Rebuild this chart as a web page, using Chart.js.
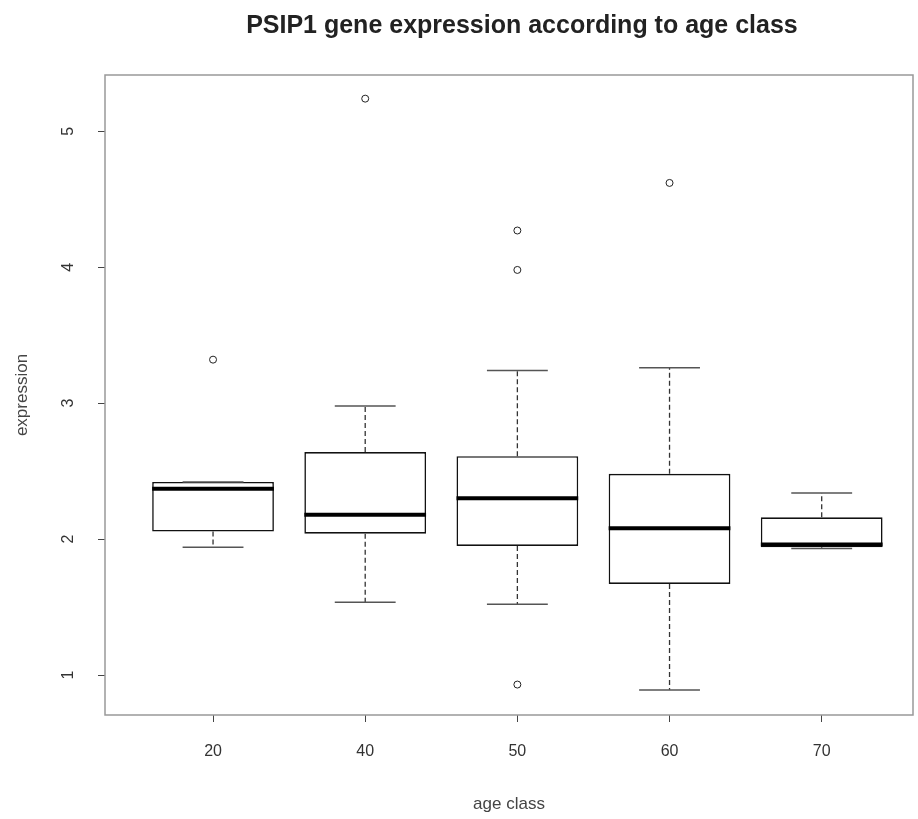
<!DOCTYPE html>
<html>
<head>
<meta charset="utf-8">
<title>PSIP1 gene expression according to age class</title>
<script src="https://cdn.jsdelivr.net/npm/chart.js@4/dist/chart.umd.min.js"></script>
<style>
  html, body { margin: 0; padding: 0; background: #fff; overflow: hidden; }
</style>
</head>
<body>
<canvas id="box" width="918" height="819"></canvas>
<script>
// values
const ageClasses = ['20', '40', '50', '60', '70'];
const lowerWhisker = [1.94, 1.535, 1.52, 0.89, 1.93];
const lowerQuartile = [2.055, 2.04, 1.95, 1.67, 1.94];
const medians = [2.37, 2.18, 2.30, 2.08, 1.96];
const upperQuartile = [2.42, 2.64, 2.61, 2.48, 2.16];
const upperWhisker = [2.42, 2.98, 3.24, 3.26, 2.34];
// outliers: which age class (index) and the value
const outlierClass = [0, 1, 2, 2, 2, 3];
const outlierValue = [3.32, 5.24, 4.27, 3.98, 0.93, 4.62];
const yTicks = [1, 2, 3, 4, 5];

const chartTitle = 'PSIP1 gene expression according to age class';

Chart.defaults.font.family = "'Liberation Sans', Arial, sans-serif";
Chart.defaults.color = '#333';

// whiskers, staples, medians, frame and the main title
const boxExtras = {
  id: 'boxExtras',
  afterDatasetsDraw(chart) {
    const { ctx, scales: { x, y } } = chart;
    const bars = chart.getDatasetMeta(0).data;
    ctx.save();
    ageClasses.forEach((c, i) => {
      const cx = x.getPixelForValue(i + 1);
      const half = bars[i].width / 2;

      ctx.strokeStyle = '#333';
      ctx.lineWidth = 1.3;
      ctx.setLineDash([5, 3]);
      ctx.beginPath();
      ctx.moveTo(cx, y.getPixelForValue(upperQuartile[i]));
      ctx.lineTo(cx, y.getPixelForValue(upperWhisker[i]));
      ctx.moveTo(cx, y.getPixelForValue(lowerQuartile[i]));
      ctx.lineTo(cx, y.getPixelForValue(lowerWhisker[i]));
      ctx.stroke();
      ctx.setLineDash([]);

      ctx.strokeStyle = '#555';
      ctx.lineWidth = 1.5;
      ctx.beginPath();
      [upperWhisker[i], lowerWhisker[i]].forEach(v => {
        const py = y.getPixelForValue(v);
        ctx.moveTo(cx - half / 2, py);
        ctx.lineTo(cx + half / 2, py);
      });
      ctx.stroke();

      ctx.strokeStyle = '#000';
      ctx.lineWidth = 4;
      ctx.beginPath();
      const my = y.getPixelForValue(medians[i]);
      ctx.moveTo(cx - half, my);
      ctx.lineTo(cx + half, my);
      ctx.stroke();
    });
    ctx.restore();
  },
  afterDraw(chart) {
    const { ctx, chartArea: a, scales: { x } } = chart;
    ctx.save();
    ctx.strokeStyle = '#999';
    ctx.lineWidth = 1.5;
    ctx.strokeRect(a.left, a.top, a.right - a.left, a.bottom - a.top);

    ctx.fillStyle = '#222';
    ctx.font = "bold 25px 'Liberation Sans', Arial, sans-serif";
    ctx.textAlign = 'center';
    ctx.textBaseline = 'middle';
    ctx.fillText(chartTitle, x.getPixelForValue(3.03), 26);
    ctx.restore();
  }
};

new Chart(document.getElementById('box'), {
  type: 'bar',
  data: {
    datasets: [
      {
        label: 'IQR',
        data: ageClasses.map((c, i) => ({ x: i + 1, y: [lowerQuartile[i], upperQuartile[i]] })),
        backgroundColor: '#fff',
        borderColor: '#111',
        borderWidth: 1.6,
        borderSkipped: false,
        categoryPercentage: 0.8,
        barPercentage: 1.0
      },
      {
        type: 'scatter',
        label: 'outliers',
        data: outlierClass.map((c, k) => ({ x: c + 1, y: outlierValue[k] })),
        pointStyle: 'circle',
        pointRadius: 3.5,
        backgroundColor: '#fff',
        borderColor: '#222',
        borderWidth: 1
      }
    ]
  },
  options: {
    responsive: false,
    animation: false,
    layout: { padding: { top: 75, right: 2, left: 0, bottom: 0 } },
    plugins: { legend: { display: false }, tooltip: { enabled: false }, title: { display: false } },
    scales: {
      x: {
        type: 'linear',
        offset: false,
        min: 0.29,
        max: 5.6,
        afterBuildTicks: s => { s.ticks = ageClasses.map((c, i) => ({ value: i + 1 })); },
        afterFit: s => { s.height = 104; },
        border: { display: false },
        grid: { offset: false, drawOnChartArea: false, tickLength: 7, color: '#444' },
        ticks: {
          autoSkip: false,
          maxRotation: 0,
          padding: 20,
          font: { size: 16 },
          callback: v => ageClasses[Math.round(v) - 1]
        },
        title: { display: true, text: 'age class', font: { size: 17 }, color: '#444', padding: { top: 0, bottom: 4 } }
      },
      y: {
        min: 0.706,
        max: 5.414,
        afterBuildTicks: s => { s.ticks = yTicks.map(v => ({ value: v })); },
        afterFit: s => { s.width = 105; },
        border: { display: false },
        grid: { drawOnChartArea: false, tickLength: 7, color: '#444' },
        ticks: {
          minRotation: 90,
          maxRotation: 90,
          crossAlign: 'center',
          padding: 25,
          font: { size: 16 }
        },
        title: { display: true, text: 'expression', font: { size: 17 }, color: '#444', padding: { top: 12, bottom: 0 } }
      }
    }
  },
  plugins: [boxExtras]
});
</script>
</body>
</html>
